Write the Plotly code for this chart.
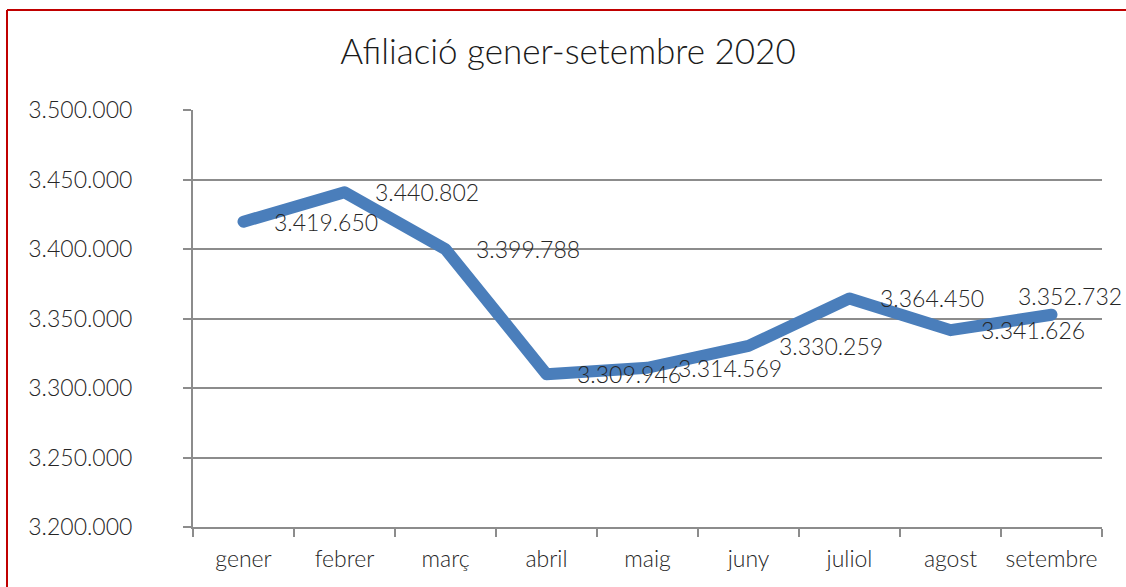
import plotly.graph_objects as go

months = ["gener", "febrer", "març", "abril", "maig", "juny", "juliol", "agost", "setembre"]
afiliats = [3419650, 3440802, 3399788, 3309946, 3314569, 3330259, 3364450, 3341626, 3352732]
y_ticks = [3200000, 3250000, 3300000, 3350000, 3400000, 3450000, 3500000]

FONT = "Lato Light, Lato"
TXT = "#262626"
GRID = "#8c8c8c"
FS = 23
W8 = 300


def fmt(v):
    return f"{v:,}".replace(",", ".")


fig = go.Figure()
fig.add_trace(go.Scatter(
    x=months, y=afiliats, mode="lines",
    line=dict(color="#4a7ebb", width=12),
    hoverinfo="skip", showlegend=False,
))

annotations = []
for i, (m, v) in enumerate(zip(months, afiliats)):
    if i == len(months) - 1:
        annotations.append(dict(x=m, y=v, text=fmt(v), showarrow=False, xanchor="center",
                                yanchor="middle", xshift=18, yshift=19,
                                font=dict(family=FONT, size=FS, color=TXT, weight=W8)))
    else:
        annotations.append(dict(x=m, y=v, text=fmt(v), showarrow=False, xanchor="left",
                                yanchor="middle", xshift=28, yshift=0,
                                font=dict(family=FONT, size=FS, color=TXT, weight=W8)))

# red chart border (left and top), in paper coords of the plot area
L, R, T, B = 193, 1102, 110, 527
px = lambda x: (x - L) / (R - L)
py = lambda y: (B - y) / (B - T)
shapes = [
    dict(type="line", xref="paper", yref="paper", x0=px(7), x1=px(7), y0=py(600), y1=py(10),
         line=dict(color="#c00000", width=2)),
    dict(type="line", xref="paper", yref="paper", x0=px(7), x1=px(1140), y0=py(10), y1=py(10),
         line=dict(color="#c00000", width=2)),
]

fig.update_layout(
    width=1126, height=587,
    margin=dict(l=L, r=1126 - R, t=T, b=587 - B, autoexpand=False),
    paper_bgcolor="white", plot_bgcolor="white",
    separators=",.",
    title=dict(text="Afiliació gener-setembre 2020", x=568 / 1126, xref="container", xanchor="center",
               y=1 - 52 / 587, yanchor="middle",
               font=dict(family=FONT, size=35, color="#1a1a1a", weight=W8)),
    annotations=annotations,
    shapes=shapes,
    xaxis=dict(
        type="category", range=[-0.5, 8.5], tickson="boundaries", tickangle=0,
        automargin=False,
        ticks="outside", ticklen=8, tickcolor=GRID, tickwidth=2,
        showline=True, linecolor=GRID, linewidth=2, showgrid=False,
        tickfont=dict(family=FONT, size=FS, color=TXT, weight=W8), ticklabelstandoff=10,
    ),
    yaxis=dict(
        range=[3200000, 3500000], tickvals=y_ticks, ticktext=[fmt(v) for v in y_ticks],
        automargin=False,
        ticks="outside", ticklen=8, tickcolor=GRID, tickwidth=2,
        showline=True, linecolor=GRID, linewidth=2,
        showgrid=True, gridcolor=GRID, gridwidth=2, zeroline=False,
        tickfont=dict(family=FONT, size=FS, color=TXT, weight=W8), ticklabelstandoff=46,
    ),
)

post = (
    "document.body.style.margin='0';"
    "document.querySelectorAll('.js-line').forEach(function(p){"
    "p.style.strokeLinecap='round';p.style.strokeLinejoin='round';});"
)
fig.write_html("out.html", config={"displayModeBar": False}, post_script=post)
